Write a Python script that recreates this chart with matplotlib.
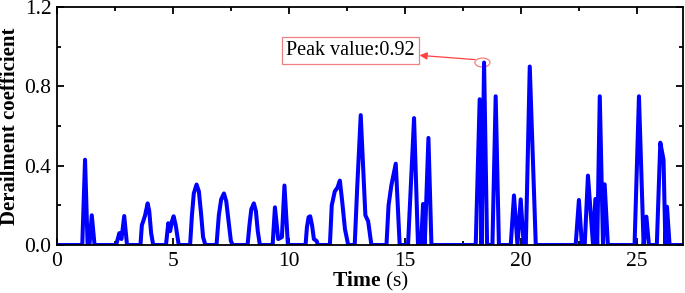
import matplotlib
matplotlib.use("Agg")
import matplotlib.pyplot as plt
from matplotlib.patches import Ellipse
from matplotlib.ticker import MultipleLocator

plt.rcParams['font.family'] = ['Liberation Serif', 'DejaVu Serif']
plt.rcParams['mathtext.fontset'] = 'custom'
plt.rcParams['mathtext.rm'] = 'Liberation Serif'
plt.rcParams['mathtext.bf'] = 'Liberation Serif:bold'

# Time (s) breakpoints and derailment coefficient values
time = [0.0, 1.09, 1.21, 1.32, 1.40, 1.50, 1.62, 2.55, 2.69, 2.78, 2.90, 3.02,
        3.60, 3.66, 3.72, 3.80, 3.91, 3.98, 4.06, 4.15,
        4.70, 4.80, 4.88, 4.96, 5.03, 5.12, 5.25,
        5.74, 5.82, 5.90, 6.02, 6.12, 6.22, 6.30, 6.40,
        6.88, 6.98, 7.08, 7.20, 7.30, 7.40, 7.50, 7.58,
        8.22, 8.30, 8.38, 8.49, 8.58, 8.66, 8.75,
        9.30, 9.40, 9.54, 9.70, 9.81, 9.96,
        10.72, 10.78, 10.85, 10.92, 11.00, 11.08, 11.20, 11.25,
        11.77, 11.85, 11.98, 12.10, 12.20, 12.30, 12.42, 12.56,
        12.84, 12.95, 13.10, 13.30, 13.42, 13.56,
        14.21, 14.30, 14.42, 14.61, 14.78, 15.14, 15.40, 15.57, 15.70, 15.79, 15.86, 16.02, 16.15,
        18.06, 18.23, 18.31, 18.42, 18.55, 18.78, 18.92, 19.06,
        19.57, 19.71, 19.86, 20.00, 20.13, 20.22, 20.39, 20.65,
        22.37, 22.51, 22.64, 22.76, 22.90, 23.12, 23.22, 23.30, 23.41, 23.55, 23.62, 23.76,
        24.91, 25.10, 25.30, 25.42, 25.53, 25.87, 26.02, 26.16, 26.24, 26.31, 26.42, 27.0]
value = [0.0, 0.0, 0.43, 0.0, 0.0, 0.15, 0.0, 0.0, 0.06, 0.03, 0.146, 0.0,
         0.0, 0.10, 0.12, 0.15, 0.21, 0.17, 0.06, 0.0,
         0.0, 0.11, 0.07, 0.12, 0.145, 0.10, 0.0,
         0.0, 0.15, 0.26, 0.305, 0.27, 0.15, 0.04, 0.0,
         0.0, 0.15, 0.23, 0.26, 0.22, 0.12, 0.02, 0.0,
         0.0, 0.10, 0.18, 0.21, 0.17, 0.07, 0.0,
         0.0, 0.19, 0.03, 0.04, 0.30, 0.0,
         0.0, 0.09, 0.14, 0.145, 0.10, 0.03, 0.02, 0.0,
         0.0, 0.20, 0.27, 0.29, 0.325, 0.22, 0.08, 0.0,
         0.0, 0.295, 0.655, 0.15, 0.12, 0.0,
         0.0, 0.20, 0.30, 0.41, 0.0, 0.0, 0.64, 0.0, 0.0, 0.207, 0.0, 0.54, 0.0,
         0.0, 0.735, 0.0, 0.92, 0.0, 0.0, 0.75, 0.0,
         0.0, 0.25, 0.0, 0.23, 0.0, 0.0, 0.90, 0.0,
         0.0, 0.227, 0.0, 0.0, 0.35, 0.0, 0.232, 0.0, 0.75, 0.0, 0.306, 0.0,
         0.0, 0.75, 0.0, 0.143, 0.0, 0.0, 0.516, 0.43, 0.0, 0.193, 0.0, 0.0]

peak_time = 18.35
peak_value = 0.92
x_ticks = [0, 5, 10, 15, 20, 25]
y_ticks = [0.0, 0.4, 0.8, 1.2]

fig = plt.figure(figsize=(6.85, 2.93), dpi=100)
ax = fig.add_axes([0.0832, 0.1638, 0.9139, 0.8122])

ax.plot(time, value, color='#0000ff', lw=2.9, solid_joinstyle='round')

ax.set_xlim(0, 27)
ax.set_ylim(0, 1.2)
ax.set_xticks(x_ticks)
ax.set_yticks(y_ticks)
ax.set_yticklabels([f"{v:.1f}" for v in y_ticks])
ax.xaxis.set_minor_locator(MultipleLocator(2.5))
ax.yaxis.set_minor_locator(MultipleLocator(0.2))
ax.tick_params(which='both', direction='in', top=True, right=True, width=1.3,
               labelsize=15.5)
ax.tick_params(which='major', length=5)
ax.tick_params(which='minor', length=3)
ax.tick_params(axis='x', pad=5)
ax.tick_params(axis='y', pad=4)
for s in ax.spines.values():
    s.set_linewidth(1.3)

ax.set_xlabel(r"$\mathbf{Time}$ (s)", fontsize=15.5, labelpad=-1)
ax.set_ylabel("Derailment coefficient", fontsize=15, fontweight='bold', labelpad=3)

ell = Ellipse((peak_time, peak_value), width=0.65, height=0.045, fill=False,
              edgecolor='#f08080', lw=0.9)
ax.add_patch(ell)
ax.annotate(f"Peak value:{peak_value:.2f}", xy=(peak_time - 0.33, peak_value + 0.015),
            xytext=(12.67, 0.983), textcoords='data', fontsize=14.5,
            ha='center', va='center',
            bbox=dict(boxstyle='square,pad=0.2', fc='white', ec='#f08080', lw=0.9),
            arrowprops=dict(arrowstyle='<|-', color='#ff4040', lw=0.9,
                            mutation_scale=11, shrinkA=0, shrinkB=0))

fig.savefig("out.png", dpi=100)
